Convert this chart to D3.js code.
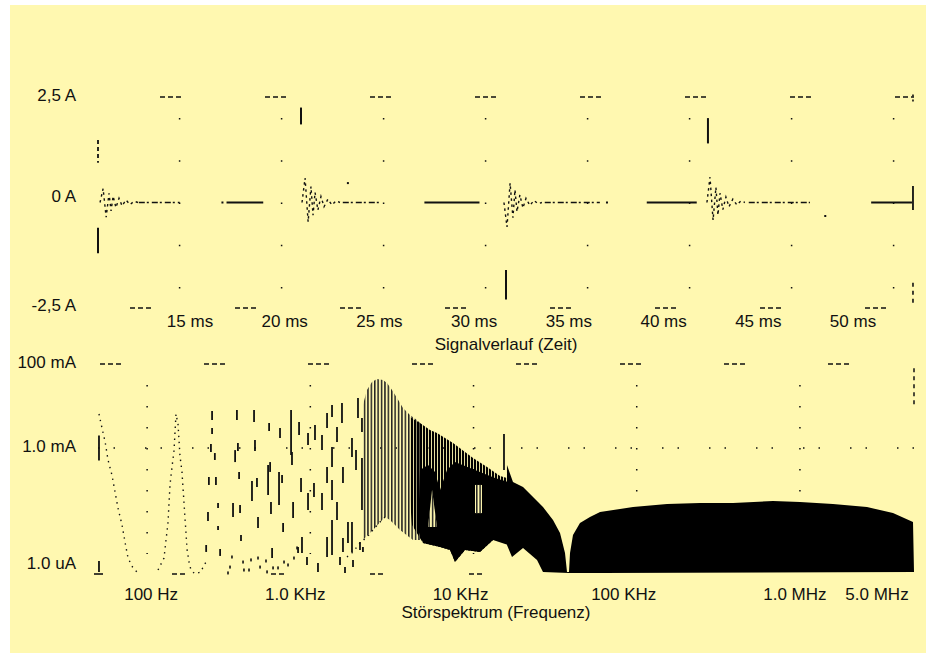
<!DOCTYPE html>
<html lang="de">
<head>
<meta charset="UTF-8">
<title>Signalverlauf / Störspektrum</title>
<script src="https://cdn.jsdelivr.net/npm/d3@7/dist/d3.min.js"></script>
<style>
  body { margin: 0; background: #fff; }
  text { font-family: "Liberation Sans", Arial, sans-serif; font-size: 17px; fill: #111; }
</style>
</head>
<body>
<div id="chart"></div>
<script>
// ---------- Signalverlauf (Zeit) ----------
const timeTicks = [15, 20, 25, 30, 35, 40, 45, 50];
const timeTickLabels = ['15 ms', '20 ms', '25 ms', '30 ms', '35 ms', '40 ms', '45 ms', '50 ms'];
const ampTicks = [2.5, 0, -2.5];
const ampTickLabels = ['2,5 A', '0 A', '-2,5 A'];

// Schaltflanken (ms) und Spitzenwerte (A)
const edgeT = [11.0, 20.95, 31.0, 40.9];
const edgeLo = [-1.2, 1.85, -2.3, 1.4];
const edgeHi = [-0.6, 2.25, -1.6, 2.0];
// Nachschwingen nach jeder Flanke
const ringStart = [11.1, 21.0, 30.9, 40.85];
const ringDt = [0, 0.15, 0.3, 0.44, 0.54, 0.64, 0.78, 0.93, 1.08, 1.27, 1.47, 1.67, 1.86];
const ring1 = [0, 0.33, -0.35, 0.22, -0.2, 0.15, -0.12, 0.1, -0.08, 0.06, -0.05, 0.03, 0];
const ring2 = [0, 0.58, -0.46, 0.38, -0.3, 0.24, -0.18, 0.14, -0.1, 0.08, -0.06, 0.04, 0];
const ring3 = [0, -0.58, 0.46, -0.36, 0.3, -0.22, 0.18, -0.13, 0.1, -0.07, 0.05, -0.03, 0];
const ring4 = [0, 0.6, -0.42, 0.36, -0.3, 0.22, -0.17, 0.13, -0.1, 0.08, -0.06, 0.04, 0];
// Nulllinie: gestrichelt nach dem Ausschwingen, durchgezogen vor der naechsten Flanke
const tailFrom = [13.0, 23.0, 32.9, 42.9];
const tailTo = [15.0, 24.9, 35.6, 45.9];
const flatFrom = [17.3, 27.0, 37.9, 48.9];
const flatTo = [19.1, 29.7, 40.35, 50.9];
const strayT = [17.1, 23.25, 35.95, 46.65];
const strayA = [0, 0.46, 0, -0.32];

// ---------- Störspektrum (Frequenz) ----------
const freqTicks = [100, 1e3, 1e4, 1e5, 1e6, 5e6];
const freqTickLabels = ['100 Hz', '1.0 KHz', '10 KHz', '100 KHz', '1.0 MHz', '5.0 MHz'];
const levelTicks = [100, 60, 0];               // dBµA
const levelTickLabels = ['100 mA', '1.0 mA', '1.0 uA'];

// einzelne Spektrallinien: [Hz, von dBµA, bis dBµA]
const harmonics = [
  [50.7, 54, 66], [50.7, 1, 6.2],
  [250, 73.3, 77.6], [250, 66.7, 69.5], [246, 58.1, 61.9], [260, 54.3, 57.6], [239, 42.4, 46.2],
  [264, 42.4, 46.2], [236, 25.2, 29.5], [272, 31.4, 33.8], [272, 21, 22.9], [230, 10.5, 13.8],
  [280, 8.6, 11.9], [355, 73.3, 78.1], [360, 58.6, 62.4], [346, 53.3, 59], [366, 45.2, 48.6],
  [336, 27.1, 33.8], [371, 29, 32.9], [376, 15.7, 18.6], [452, 72.4, 78.1], [458, 58.6, 63.8],
  [471, 41.4, 45.7], [439, 34.8, 44.3], [478, 21.9, 27.1], [559, 68.1, 71.9], [551, 37.6, 51.9],
  [567, 48.6, 53.3], [574, 28.6, 34.3], [583, 7.6, 12.4], [652, 64.8, 69.5], [643, 32.9, 48.6],
  [671, 43.3, 47.1], [681, 20, 24.3], [762, 56.7, 78.1], [772, 51.9, 58.1], [784, 26.7, 34.3],
  [853, 66.2, 72.4], [877, 39, 45.7], [889, 10, 17.6], [841, 10, 12.9], [968, 61.4, 67.1],
  [968, 30.5, 38.6], [954, 4.3, 8.1], [1068, 63.8, 71], [1053, 36.7, 43.3], [1179, 59, 66.2],
  [1179, 30.5, 38.6], [1114, 1, 5.2], [1266, 69.5, 76.7], [1266, 43.3, 51], [1266, 8.1, 17.6],
  [1358, 74.8, 80.5], [1358, 51, 60.5], [1358, 35.2, 44.8], [1358, 9, 25.7], [1457, 62.9, 70],
  [1457, 25.7, 34.3], [1520, 4.3, 8.1], [1563, 71.9, 81.4], [1585, 43.3, 51], [1585, 10.5, 17.1],
  [1631, 0.5, 3.3], [1701, 14.8, 24.8], [1800, 55.7, 64.8], [1800, 10.5, 24.8], [1826, 3.3, 6.7],
  [1905, 49.5, 59], [1959, 74.3, 83.8], [2015, 11.4, 15.2], [2072, 67.6, 74.3], [2072, 30.5, 55.2],
  [2101, 10.5, 12.9], [15370, 49.5, 66.7]
];
// kleine Punkte am unteren Rand: [Hz, dBµA]
const specDots = [[313, 0.5], [322, 3.3], [331, 8.1], [387, 5.7], [392, 1.9], [421, 1.9], [433, 6.7],
  [478, 7.6], [492, 3.3], [535, 6.2], [543, 1], [591, 2.9], [634, 2.9], [690, 5.7], [730, 4.3],
  [794, 7.6], [829, 12.4]];
// punktierte Kurven
const curve1 = [[50.7, 76.2], [52.9, 69.5], [55.3, 62.9], [57.6, 54.3], [60.9, 47.1], [63.6, 39],
  [66.3, 31.4], [70.2, 23.3], [73.2, 15.2], [76.4, 7.6], [81.9, 2.9], [87.9, 0.5]];
const curve2 = [[116.6, 1.9], [126.9, 7.6], [130.6, 16.2], [134.3, 24.8], [136.2, 33.8], [138.1, 42.4],
  [142.1, 51], [146.2, 59], [148.2, 67.6], [150.3, 76.2], [154.6, 71.4], [156.8, 63.8], [159, 56.2],
  [163.5, 48.6], [165.9, 41], [168.2, 34.3], [170.6, 26.7], [173, 20], [175.5, 11.9], [180.5, 5.7],
  [185.7, 1.9], [196.5, 0], [213.9, 1], [220, 3.3], [229.5, 5.7]];
const curve3 = [[1677, 8.1], [1826, 10.5], [2015, 14.8], [2223, 17.6], [2421, 21], [2673, 24.8], [2868, 27.1]];
// dichte Linienbereiche (Umriss)
const bandA = [[2101, 80.5], [2223, 87.6], [2386, 91.4], [2561, 92.9], [2788, 92.4], [2950, 91],
  [3166, 87.6], [3398, 83.8], [3697, 79], [4080, 75.7], [4505, 73.3], [4834, 71],
  [4834, 16.2], [4257, 16.2], [3545, 21], [3077, 25.7], [2868, 27.1], [2421, 21], [2101, 16.2]];
const bandB = [[4080, 74.8], [4700, 71.9], [5410, 68.6], [5973, 67.1], [7487, 62.4], [9929, 55.2],
  [12100, 51], [14530, 46.7], [16030, 45.7], [16030, 18.6], [13170, 16.2], [10950, 10.5],
  [8871, 11.4], [7700, 5.7], [7180, 11.4], [6233, 12.9], [4902, 14.8], [4198, 23.3], [4080, 35.2]];
const blobB = [[4700, 49.5], [5261, 51.9], [5807, 48.6], [6233, 40], [6877, 49.5], [7700, 53.3],
  [8871, 51.4], [10950, 48.6], [13540, 45.7], [16300, 43.8], [16300, 13.8], [13170, 16.2],
  [10950, 10.5], [8871, 11.4], [7700, 5.7], [7180, 11.4], [6233, 12.9], [4902, 14.8], [4569, 21]];
const holeB1 = [[5261, 22.4], [5570, 40], [5973, 22.4]];
const holeB2 = [[10210, 29], [10210, 42.4], [11270, 42.4], [11270, 29]];
// geschlossene Huellkurve ab ca. 16 kHz
const fillC = [[16030, 51.9], [17450, 43.8], [20100, 41.4], [23150, 36.7], [26650, 31.9], [30690, 25.7],
  [33880, 19.5], [36350, 10], [37390, 1], [38460, 1], [39010, 10], [40690, 18.6], [44900, 24.3],
  [51700, 27.1], [59600, 29.5], [94900, 31.9], [153400, 33.3], [244200, 33.8], [389000, 33.8],
  [683900, 34.8], [1001000, 34.3], [1594000, 33.3], [2576000, 31.9], [3717000, 29], [4930000, 24.8],
  [5000000, 1], [59600, 0.5], [38460, 0.5], [26650, 1], [24490, 6.7], [20100, 12.4], [17210, 8.1],
  [16030, 13.8]];

const width = 928, height = 655;
const svg = d3.select('#chart').append('svg')
  .attr('width', width).attr('height', height);

const defs = svg.append('defs');
defs.append('pattern').attr('id', 'hatchA').attr('patternUnits', 'userSpaceOnUse')
  .attr('width', 3.4).attr('height', 4)
  .append('rect').attr('width', 1.5).attr('height', 4).attr('fill', '#222');
defs.append('pattern').attr('id', 'hatchB').attr('patternUnits', 'userSpaceOnUse')
  .attr('width', 3).attr('height', 4)
  .append('rect').attr('width', 2.1).attr('height', 4).attr('fill', '#000');

svg.append('rect').attr('x', 10).attr('y', 5).attr('width', 916).attr('height', 648)
  .attr('fill', '#fff8b0');

const ink = '#111';

// ================= oberes Diagramm =================
const x = d3.scaleLinear().domain([11, 51]).range([98, 914]);
const y = d3.scaleLinear().domain([-2.5, 2.5]).range([308, 97]);
const tickPos = d3.scaleLinear().domain([15, 50]).range([190, 853]);

const gTop = svg.append('g');

// Raster
gTop.selectAll('.col').data(timeTicks).enter().append('line')
  .attr('x1', d => x(d)).attr('x2', d => x(d))
  .attr('y1', y(2)).attr('y2', y(-2.05))
  .attr('stroke', ink).attr('stroke-width', 1.5)
  .attr('stroke-dasharray', '1.5,40.7');
gTop.append('line').attr('x1', x(11)).attr('x2', x(51)).attr('y1', y(2.5)).attr('y2', y(2.5))
  .attr('stroke', ink).attr('stroke-width', 1.3)
  .attr('stroke-dasharray', '5,3,5,3,5,84').attr('stroke-dashoffset', 43);
gTop.append('line').attr('x1', x(11)).attr('x2', x(51)).attr('y1', y(-2.5)).attr('y2', y(-2.5))
  .attr('stroke', ink).attr('stroke-width', 1.3)
  .attr('stroke-dasharray', '5,3,5,3,5,84').attr('stroke-dashoffset', 73);

// Flanken
gTop.selectAll('.edge').data(edgeT).enter().append('line')
  .attr('x1', d => x(d)).attr('x2', d => x(d))
  .attr('y1', (d, i) => y(edgeLo[i])).attr('y2', (d, i) => y(edgeHi[i]))
  .attr('stroke', ink).attr('stroke-width', 2);
gTop.append('line').attr('x1', x(11)).attr('x2', x(11)).attr('y1', y(1.48)).attr('y2', y(0.94))
  .attr('stroke', ink).attr('stroke-width', 1.8).attr('stroke-dasharray', '4,3');

// Nachschwingen
const line = d3.line().x(d => x(d[0])).y(d => y(d[1]));
[ring1, ring2, ring3, ring4].forEach((r, b) => {
  const pts = ringDt.map((dt, i) => [ringStart[b] + dt, r[i]]);
  gTop.append('path').attr('d', line(pts))
    .attr('fill', 'none').attr('stroke', ink).attr('stroke-width', 1.4)
    .attr('stroke-dasharray', '2.5,3.5');
});

// Nulllinie
gTop.selectAll('.tail').data(tailFrom).enter().append('line')
  .attr('x1', d => x(d)).attr('x2', (d, i) => x(tailTo[i]))
  .attr('y1', y(0)).attr('y2', y(0))
  .attr('stroke', ink).attr('stroke-width', 1.6).attr('stroke-dasharray', '6,2,2,3');
gTop.selectAll('.flat').data(flatFrom).enter().append('line')
  .attr('x1', d => x(d)).attr('x2', (d, i) => x(flatTo[i]))
  .attr('y1', y(0)).attr('y2', y(0))
  .attr('stroke', ink).attr('stroke-width', 1.8);
gTop.selectAll('.stray').data(strayT).enter().append('rect')
  .attr('x', d => x(d) - 1).attr('y', (d, i) => y(strayA[i]) - 1)
  .attr('width', 2).attr('height', 2).attr('fill', ink);
// rechter Rand
gTop.append('line').attr('x1', x(50.95)).attr('x2', x(50.95)).attr('y1', y(0.39)).attr('y2', y(-0.18))
  .attr('stroke', ink).attr('stroke-width', 1.8);
gTop.append('line').attr('x1', x(50.95)).attr('x2', x(50.95)).attr('y1', y(-1.9)).attr('y2', y(-2.43))
  .attr('stroke', ink).attr('stroke-width', 1.6).attr('stroke-dasharray', '4,4');
gTop.append('line').attr('x1', x(50.95)).attr('x2', x(50.95)).attr('y1', y(2.56)).attr('y2', y(2.36))
  .attr('stroke', ink).attr('stroke-width', 1.6).attr('stroke-dasharray', '2,3');

// Beschriftung
const ampShift = [0, -4.5, -1.5];
gTop.selectAll('.yl').data(ampTicks).enter().append('text')
  .attr('x', 76).attr('y', (d, i) => y(d) + ampShift[i]).attr('text-anchor', 'end')
  .attr('dominant-baseline', 'middle').text((d, i) => ampTickLabels[i]);
gTop.selectAll('.xl').data(timeTicks).enter().append('text')
  .attr('x', d => tickPos(d)).attr('y', 327).attr('text-anchor', 'middle')
  .text((d, i) => timeTickLabels[i]);
gTop.append('text').attr('x', 506).attr('y', 350).attr('text-anchor', 'middle')
  .text('Signalverlauf (Zeit)');

// ================= unteres Diagramm =================
const fx = d3.scaleLog().domain([50, 5e6]).range([98, 914]);
const fy = d3.scaleLinear().domain([0, 100]).range([574, 364]);
const sLine = d3.line().x(d => fx(d[0])).y(d => fy(d[1]));

const gBot = svg.append('g');

// Raster
gBot.selectAll('.col').data(freqTicks.slice(0, 5)).enter().append('line')
  .attr('x1', d => fx(d)).attr('x2', d => fx(d))
  .attr('y1', fy(90)).attr('y2', fy(9.5))
  .attr('stroke', ink).attr('stroke-width', 1.5)
  .attr('stroke-dasharray', '1.5,19.5');
gBot.append('line').attr('x1', fx(50)).attr('x2', fx(5e6)).attr('y1', fy(60)).attr('y2', fy(60))
  .attr('stroke', ink).attr('stroke-width', 1.5).attr('stroke-dasharray', '1.5,14,1.5,30');
gBot.append('line').attr('x1', fx(50)).attr('x2', fx(5e6)).attr('y1', fy(100)).attr('y2', fy(100))
  .attr('stroke', ink).attr('stroke-width', 1.3)
  .attr('stroke-dasharray', '5,3,5,3,5,83').attr('stroke-dashoffset', 102);
gBot.append('line').attr('x1', fx(50)).attr('x2', fx(16000)).attr('y1', fy(0)).attr('y2', fy(0))
  .attr('stroke', ink).attr('stroke-width', 1.3)
  .attr('stroke-dasharray', '5,3,5,86').attr('stroke-dashoffset', 25);
gBot.append('line').attr('x1', fx(5e6)).attr('x2', fx(5e6)).attr('y1', fy(98)).attr('y2', fy(80))
  .attr('stroke', ink).attr('stroke-width', 1.5).attr('stroke-dasharray', '4,4');
gBot.append('line').attr('x1', fx(50) - 4).attr('x2', fx(50) + 5).attr('y1', fy(0)).attr('y2', fy(0))
  .attr('stroke', ink).attr('stroke-width', 1.6);

// Flaechen
gBot.append('path').attr('d', sLine(bandA) + 'Z').attr('fill', 'url(#hatchA)');
gBot.append('path').attr('d', sLine(bandB) + 'Z').attr('fill', 'url(#hatchB)');
gBot.append('path').attr('d', sLine(blobB) + 'Z').attr('fill', '#000');
[holeB1, holeB2].forEach(h => {
  gBot.append('path').attr('d', sLine(h) + 'Z').attr('fill', '#fff8b0');
  gBot.append('path').attr('d', sLine(h) + 'Z').attr('fill', 'url(#hatchA)');
});
gBot.append('path').attr('d', sLine(fillC) + 'Z').attr('fill', '#000');

// Linien und Punkte
gBot.selectAll('.harm').data(harmonics).enter().append('line')
  .attr('x1', d => fx(d[0])).attr('x2', d => fx(d[0]))
  .attr('y1', d => fy(d[1])).attr('y2', d => fy(d[2]))
  .attr('stroke', ink).attr('stroke-width', 1.8);
[curve1, curve2, curve3].forEach(c => {
  gBot.append('path').attr('d', sLine(c)).attr('fill', 'none')
    .attr('stroke', ink).attr('stroke-width', 1.4).attr('stroke-dasharray', '1.4,4.6');
});
gBot.selectAll('.dot').data(specDots).enter().append('rect')
  .attr('x', d => fx(d[0]) - 0.8).attr('y', d => fy(d[1]) - 1.5)
  .attr('width', 1.6).attr('height', 3).attr('fill', ink);

// Beschriftung
gBot.selectAll('.yl').data(levelTicks).enter().append('text')
  .attr('x', 76).attr('y', d => fy(d) - (d === 0 ? 9 : 0)).attr('text-anchor', 'end')
  .attr('dominant-baseline', 'middle').text((d, i) => levelTickLabels[i]);
const nudge = [4, -15, -13, -13, -5, -37];
gBot.selectAll('.xl').data(freqTicks).enter().append('text')
  .attr('x', (d, i) => fx(d) + nudge[i]).attr('y', 600).attr('text-anchor', 'middle')
  .text((d, i) => freqTickLabels[i]);
gBot.append('text').attr('x', 496).attr('y', 618).attr('text-anchor', 'middle')
  .text('Störspektrum (Frequenz)');
</script>
</body>
</html>
